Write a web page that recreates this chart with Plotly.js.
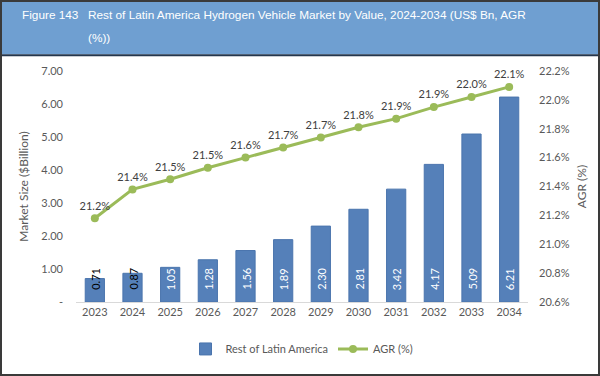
<!DOCTYPE html>
<html><head><meta charset="utf-8">
<script src="https://cdn.plot.ly/plotly-3.0.1.min.js"></script>
<style>
html,body{margin:0;padding:0;background:#fff;}
#wrap{position:relative;width:600px;height:376px;}
#chart{width:600px;height:376px;}
#frame{position:absolute;left:0;top:0;width:596px;height:372px;border:2px solid #3a3a3a;pointer-events:none;}
</style></head>
<body><div id="wrap"><div id="chart"></div><div id="frame"></div></div>
<script>
const years = ['2023','2024','2025','2026','2027','2028','2029','2030','2031','2032','2033','2034'];
const marketSize = [0.71,0.87,1.05,1.28,1.56,1.89,2.30,2.81,3.42,4.17,5.09,6.21];
const agr = [21.18,21.38,21.45,21.53,21.60,21.67,21.74,21.81,21.87,21.95,22.02,22.09];
const agrLabels = ['21.2%','21.4%','21.5%','21.5%','21.6%','21.7%','21.7%','21.8%','21.9%','21.9%','22.0%','22.1%'];
const leftTicks = [0,1,2,3,4,5,6,7];
const leftTickText = ['-','1.00','2.00','3.00','4.00','5.00','6.00','7.00'];
const rightTicks = [20.6,20.8,21.0,21.2,21.4,21.6,21.8,22.0,22.2];
const rightTickText = ['20.6%','20.8%','21.0%','21.2%','21.4%','21.6%','21.8%','22.0%','22.2%'];
const figNo = 'Figure 143';
const titleLine1 = 'Rest of Latin America Hydrogen Vehicle Market by Value, 2024-2034 (US$ Bn, AGR';
const titleLine2 = '(%))';

const W=600,H=376,ML=76,MR=72,MT=71,MB=70;
const PW=W-ML-MR, PH=H-MT-MB;
const px = x => (x-ML)/PW;
const py = y => (H-MB-y)/PH;

const font = 'Lato, "Open Sans", sans-serif';
const titleFont = '"Liberation Sans", Arial, sans-serif';
const tickColor = '#595959';

const barLabels = marketSize.map((v,i)=>({
  x: i, y: 0, xref:'x', yref:'y', text: v.toFixed(2), showarrow:false,
  textangle:-90, yanchor:'bottom', xanchor:'center', yshift:10,
  font:{family:font,size:11,color: v<1 ? '#000000' : '#ffffff'}
}));

const data = [
  {type:'bar', x:years, y:marketSize, name:'Rest of Latin America',
   marker:{color:'#5580b9', line:{color:'#4a74ad', width:1}}, hoverinfo:'skip'},
  {type:'scatter', mode:'lines+markers+text', x:years, y:agr, yaxis:'y2', name:'AGR (%)',
   text:agrLabels, textposition:'top center', textfont:{family:font,size:11,color:'#404040'},
   line:{color:'#9bbb59', width:3}, marker:{color:'#9bbb59', size:8}, cliponaxis:false}
];

const layout = {
  width:W, height:H, margin:{l:ML,r:MR,t:MT,b:MB},
  paper_bgcolor:'#ffffff', plot_bgcolor:'#ffffff',
  bargap:0.49, showlegend:true,
  legend:{orientation:'h', x:0.5, xanchor:'center', y:py(339), yanchor:'top',
          font:{family:font,size:11,color:tickColor}, traceorder:'normal'},
  xaxis:{type:'category', range:[-0.5, years.length-0.5], autorange:false,
         showline:true, linecolor:'#d9d9d9', linewidth:1, ticks:'',
         tickfont:{family:font,size:11,color:tickColor}, showgrid:false, zeroline:false},
  yaxis:{range:[0,7], autorange:false, tickvals:leftTicks, ticktext:leftTickText, showgrid:false, zeroline:false,
         showline:false, ticks:'', ticklabelstandoff:12,
         tickfont:{family:font,size:11,color:tickColor},
         title:{text:'Market Size ($Billion)', font:{family:font,size:12,color:tickColor}, standoff:10}},
  yaxis2:{overlaying:'y', side:'right', range:[20.6,22.2], autorange:false, tickvals:rightTicks, ticktext:rightTickText,
          showgrid:false, zeroline:false, showline:false, ticks:'', ticklabelstandoff:10,
          tickfont:{family:font,size:11,color:tickColor},
          title:{text:'AGR (%)', font:{family:font,size:12,color:tickColor}, standoff:8}},
  shapes:[
    {type:'rect', xref:'paper', yref:'paper', x0:px(0), x1:px(600), y0:py(54), y1:py(0),
     fillcolor:'#6f9fd1', line:{width:0}, layer:'below'},
    {type:'line', xref:'paper', yref:'paper', x0:px(0), x1:px(600), y0:py(55), y1:py(55),
     line:{color:'#24364d', width:2}}
  ],
  annotations:[
    {xref:'paper', yref:'paper', x:px(20), y:py(14), xanchor:'left', yanchor:'middle', showarrow:false,
     text:figNo, font:{family:titleFont, size:11.8, color:'#ffffff'}},
    {xref:'paper', yref:'paper', x:px(86), y:py(14), xanchor:'left', yanchor:'middle', showarrow:false,
     text:titleLine1, font:{family:titleFont, size:11.8, color:'#ffffff'}},
    {xref:'paper', yref:'paper', x:px(86), y:py(37), xanchor:'left', yanchor:'middle', showarrow:false,
     text:titleLine2, font:{family:titleFont, size:11.8, color:'#ffffff'}}
  ].concat(barLabels)
};

Plotly.newPlot('chart', data, layout, {displayModeBar:false, staticPlot:true});
</script></body></html>
